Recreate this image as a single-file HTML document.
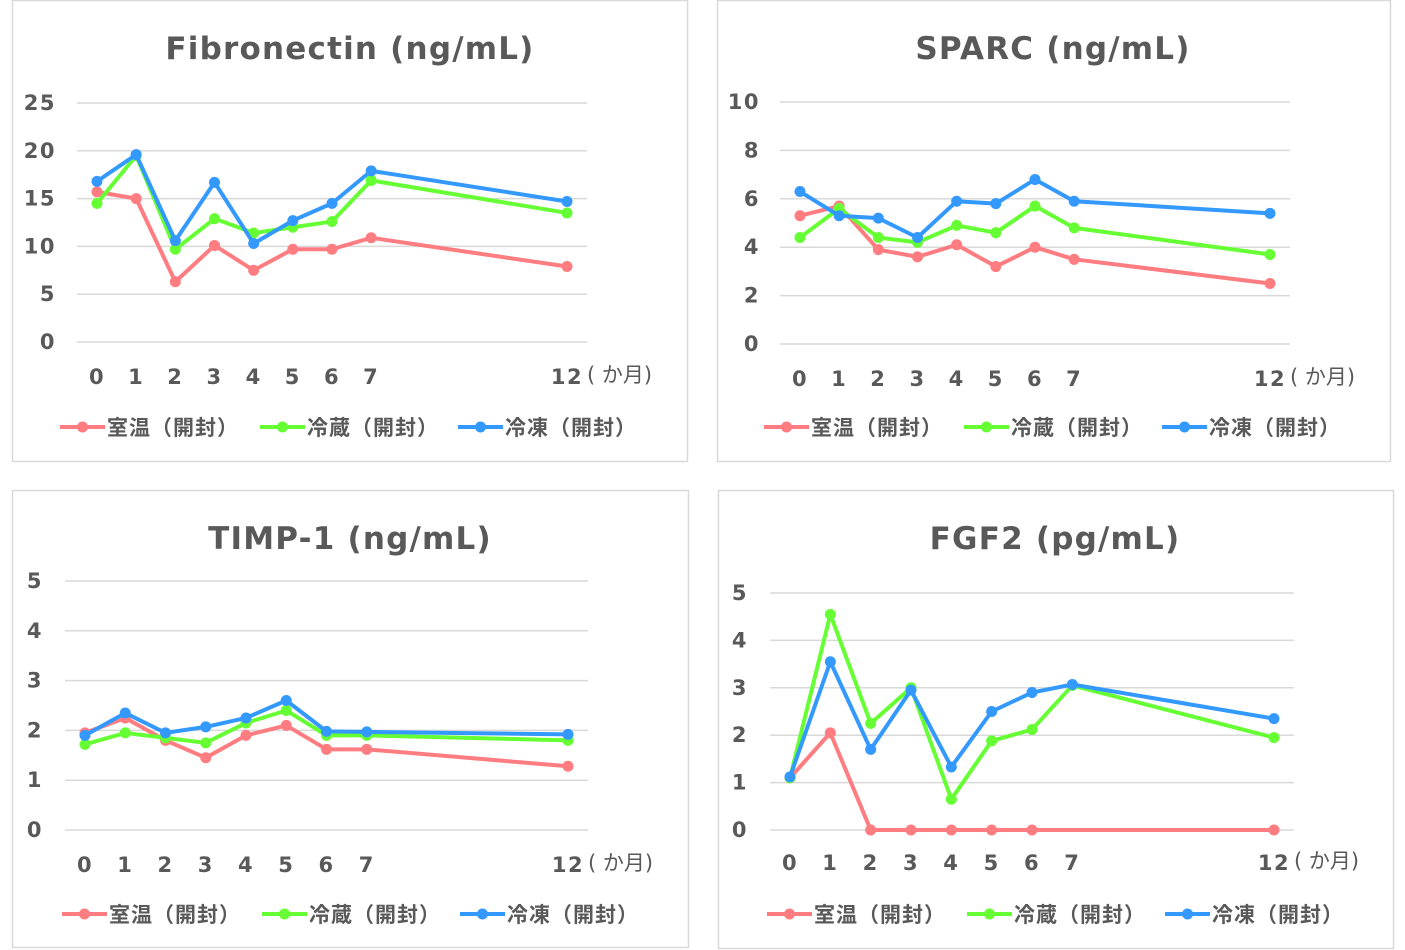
<!DOCTYPE html>
<html><head><meta charset="utf-8">
<style>
body{margin:0;background:#fff;width:1405px;height:950px;overflow:hidden;}
svg{display:block;font-family:"DejaVu Sans","Noto Sans CJK JP",sans-serif;}
</style></head>
<body>
<svg id="root" width="1405" height="950"></svg>
<script>
const categories = [0,1,2,3,4,5,6,7,12];
const seriesNames = ["室温（開封）","冷蔵（開封）","冷凍（開封）"];
const fibroRed   = [15.7,15.0,6.3,10.1,7.5,9.7,9.7,10.9,7.9];
const fibroGreen = [14.5,19.5,9.7,12.9,11.4,12.0,12.6,16.9,13.5];
const fibroBlue  = [16.8,19.6,10.6,16.7,10.3,12.7,14.5,17.9,14.7];
const fibroTicks = [0,5,10,15,20,25];
const sparcRed   = [5.3,5.7,3.9,3.6,4.1,3.2,4.0,3.5,2.5];
const sparcGreen = [4.4,5.6,4.4,4.2,4.9,4.6,5.7,4.8,3.7];
const sparcBlue  = [6.3,5.3,5.2,4.4,5.9,5.8,6.8,5.9,5.4];
const sparcTicks = [0,2,4,6,8,10];
const timpRed    = [1.95,2.25,1.8,1.45,1.9,2.1,1.62,1.62,1.28];
const timpGreen  = [1.72,1.95,1.85,1.75,2.15,2.4,1.9,1.9,1.8];
const timpBlue   = [1.9,2.35,1.95,2.07,2.25,2.6,1.98,1.97,1.92];
const timpTicks  = [0,1,2,3,4,5];
const fgfRed     = [1.1,2.05,0,0,0,0,0,null,0];
const fgfGreen   = [1.1,4.55,2.25,3.0,0.65,1.88,2.12,3.05,1.95];
const fgfBlue    = [1.12,3.55,1.7,2.95,1.33,2.5,2.9,3.07,2.35];
const fgfTicks   = [0,1,2,3,4,5];

const colors = ["#FF7C80","#66FF33","#3399FF"];
const NS="http://www.w3.org/2000/svg";
const root=document.getElementById('root');
function mk(tag,attrs,parent){const e=document.createElementNS(NS,tag);for(const k in attrs)e.setAttribute(k,attrs[k]);(parent||root).appendChild(e);return e;}

const panels=[
 {name:"fibronectin",title:"Fibronectin (ng/mL)",box:[12,0,675,461],gx:[77,587],x0:97,x12:567,yTop:103,yBot:342,max:25,ticks:fibroTicks,series:[fibroRed,fibroGreen,fibroBlue],tickX:56,xlabY:384,legY:427,legX:[60,260,458],titleX:350,titleY:59},
 {name:"sparc",title:"SPARC (ng/mL)",box:[717,0,673,461],gx:[780,1290],x0:800,x12:1270,yTop:102,yBot:344,max:10,ticks:sparcTicks,series:[sparcRed,sparcGreen,sparcBlue],tickX:760,xlabY:386,legY:427,legX:[764,964,1162],titleX:1053,titleY:59},
 {name:"timp1",title:"TIMP-1 (ng/mL)",box:[12,490,676,457],gx:[65,588],x0:85,x12:568,yTop:581,yBot:830,max:5,ticks:timpTicks,series:[timpRed,timpGreen,timpBlue],tickX:43,xlabY:872,legY:914,legX:[62,262,460],titleX:350,titleY:549},
 {name:"fgf2",title:"FGF2 (pg/mL)",box:[718,490,675,458],gx:[770,1294],x0:790,x12:1274,yTop:593,yBot:830,max:5,ticks:fgfTicks,series:[fgfRed,fgfGreen,fgfBlue],tickX:748,xlabY:870,legY:914,legX:[767,967,1165],titleX:1055,titleY:549}
];

panels.forEach(p=>{
  const g=mk('g',{});
  
  
  const b=mk('rect',{x:p.box[0]+0.5,y:p.box[1]+0.5,width:p.box[2],height:p.box[3],fill:'#fff',stroke:'#d9d9d9','stroke-width':1.5},g);
  
  
  const t=mk('text',{x:p.titleX,y:p.titleY,'text-anchor':'middle','font-size':31,'font-weight':'bold','letter-spacing':'1.2',fill:'#595959'},g);
  t.textContent=p.title;
  
  
  const xs=v=>p.x0+(p.x12-p.x0)*v/12;
  const ys=v=>p.yBot-(p.yBot-p.yTop)*v/p.max;
  p.ticks.forEach(v=>{
    const l=mk('line',{x1:p.gx[0],x2:p.gx[1],y1:ys(v),y2:ys(v),stroke:'#d9d9d9','stroke-width':1.5},g);
    
    
    const tx=mk('text',{x:p.tickX,y:ys(v)+7,'text-anchor':'end','font-size':21,'font-weight':'bold','letter-spacing':'1.5',fill:'#595959'},g);
    tx.textContent=v;
    
    
  });
  categories.forEach(c=>{
    const tx=mk('text',{x:xs(c),y:p.xlabY,'text-anchor':'middle','font-size':21,'font-weight':'bold','letter-spacing':'1.5',fill:'#595959'},g);
    tx.textContent=c;
    
    
  });
  const u=mk('text',{x:xs(12)+20,y:p.xlabY-2,'font-size':21,fill:'#595959'},g);
  u.textContent='( か月)';
  
  
  p.series.forEach((s,si)=>{
    let d='';
    categories.forEach((c,i)=>{if(s[i]==null)return;d+=(d?'L':'M')+xs(c)+','+ys(s[i]);});
    const pl=mk('path',{d:d,fill:'none',stroke:colors[si],'stroke-width':4,'stroke-linejoin':'round'},g);
    
    
    categories.forEach((c,i)=>{
      if(s[i]==null)return;
      const ci=mk('circle',{cx:xs(c),cy:ys(s[i]),r:5.5,fill:colors[si]},g);
      
      
    });
    const lx=p.legX[si];
    const lg=mk('g',{},g);
    
    
    mk('line',{x1:lx,x2:lx+45,y1:p.legY,y2:p.legY,stroke:colors[si],'stroke-width':4},lg);
    mk('circle',{cx:lx+22.5,cy:p.legY,r:5.5,fill:colors[si]},lg);
    const lt=mk('text',{x:lx+47,y:p.legY+8,'font-size':21,'font-weight':'bold','letter-spacing':'1',fill:'#595959'},lg);
    lt.textContent=seriesNames[si];
  });
});
</script>
</body></html>
